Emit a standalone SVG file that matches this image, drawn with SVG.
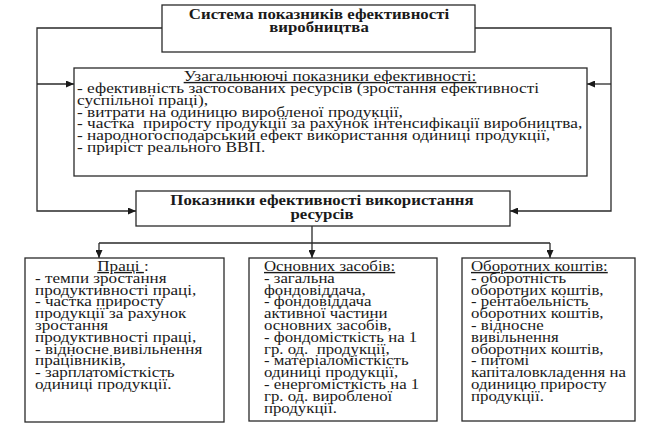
<svg xmlns="http://www.w3.org/2000/svg" width="648" height="424" viewBox="0 0 648 424">
<defs>
<style>
.box{fill:#fff;stroke:#2a2a2a;stroke-width:1.3}
.ln{fill:none;stroke:#2a2a2a;stroke-width:1.3}
text{font-family:"Liberation Serif","Times New Roman",serif;fill:#1a1a1a;font-size:14px;white-space:pre}
.b{font-weight:bold}
.u{text-decoration:underline}
</style>
<marker id="ah" markerUnits="userSpaceOnUse" markerWidth="8" markerHeight="7" refX="8" refY="3.5" orient="auto">
<path d="M0,0 L8,3.5 L0,7 z" fill="#1a1a1a"/>
</marker>
</defs>
<rect width="648" height="424" fill="#fff"/>
<g id="connectors">
<path class="ln" d="M162,28 H37 V211 H136" marker-end="url(#ah)"/>
<path class="ln" d="M37,84 H74" marker-end="url(#ah)"/>
<path class="ln" d="M475,28 H611 V211 H510" marker-end="url(#ah)"/>
<path class="ln" d="M611,84 H587" marker-end="url(#ah)"/>
<path class="ln" d="M312,226 V243 M99,243 H550"/>
<path class="ln" d="M99,243 V258" marker-end="url(#ah)"/>
<path class="ln" d="M312,243 V258" marker-end="url(#ah)"/>
<path class="ln" d="M550,243 V258" marker-end="url(#ah)"/>
</g>
<g id="system">
<rect class="box" x="162" y="5" width="313" height="47"/>
<g transform="translate(319 0) scale(1.2 1) translate(-319 0)">
<text class="b" x="319" y="19" text-anchor="middle">Система показників ефективності</text>
<text class="b" x="319" y="32" text-anchor="middle">виробництва</text>
</g>
</g>
<g id="general">
<rect class="box" x="74" y="68" width="513" height="108"/>
<g transform="translate(77 0) scale(1.235 1) translate(-77 0)">
<text class="u" x="281.9" y="81" text-anchor="middle">Узагальнюючі показники ефективності:</text>
<text x="77" y="93">- ефективність застосованих ресурсів (зростання ефективності</text>
<text x="77" y="104.8">суспільної праці),</text>
<text x="77" y="116.6">- витрати на одиницю виробленої продукції,</text>
<text x="77" y="128.4">- частка  приросту продукції за рахунок інтенсифікації виробництва,</text>
<text x="77" y="140.2">- народногосподарський ефект використання одиниці продукції,</text>
<text x="77" y="152">- приріст реального ВВП.</text>
</g>
</g>
<g id="resources">
<rect class="box" x="136" y="191" width="374" height="35"/>
<g transform="translate(322 0) scale(1.2 1) translate(-322 0)">
<text class="b" x="322" y="205" text-anchor="middle">Показники ефективності використання</text>
<text class="b" x="322" y="219" text-anchor="middle">ресурсів</text>
</g>
</g>
<g id="labour">
<rect class="box" x="25" y="258" width="199" height="164"/>
<g transform="translate(35 0) scale(1.22 1) translate(-35 0)">
<text x="107.1" y="271" text-anchor="middle"><tspan class="u">Праці </tspan>:</text>
<text x="35" y="282.8">- темпи зростання</text>
<text x="35" y="294.6">продуктивності праці,</text>
<text x="35" y="306.4">- частка приросту</text>
<text x="35" y="318.2">продукції за рахунок</text>
<text x="35" y="330">зростання</text>
<text x="35" y="341.8">продуктивності праці,</text>
<text x="35" y="353.6">- відносне вивільнення</text>
<text x="35" y="365.4">працівників,</text>
<text x="35" y="377.2">- зарплатомісткість</text>
<text x="35" y="389">одиниці продукції.</text>
</g>
</g>
<g id="fixed-assets">
<rect class="box" x="249" y="258" width="188" height="163"/>
<g transform="translate(264 0) scale(1.2 1) translate(-264 0)">
<text class="u" x="264" y="271">Основних засобів:</text>
<text x="264" y="282.8">- загальна</text>
<text x="264" y="294.6">фондовіддача,</text>
<text x="264" y="306.4">- фондовіддача</text>
<text x="264" y="318.2">активної частини</text>
<text x="264" y="330">основних засобів,</text>
<text x="264" y="341.8">- фондомісткість на 1</text>
<text x="264" y="353.6">гр. од.  продукції,</text>
<text x="264" y="365.4">- матеріаломісткість</text>
<text x="264" y="377.2">одиниці продукції,</text>
<text x="264" y="389">- енергомісткість на 1</text>
<text x="264" y="400.8">гр. од. виробленої</text>
<text x="264" y="412.6">продукції.</text>
</g>
</g>
<g id="working-capital">
<rect class="box" x="462" y="258" width="173" height="163"/>
<g transform="translate(471 0) scale(1.2 1) translate(-471 0)">
<text class="u" x="471" y="271">Оборотних коштів:</text>
<text x="471" y="282.8">- оборотність</text>
<text x="471" y="294.6">оборотних коштів,</text>
<text x="471" y="306.4">- рентабельність</text>
<text x="471" y="318.2">оборотних коштів,</text>
<text x="471" y="330">- відносне</text>
<text x="471" y="341.8">вивільнення</text>
<text x="471" y="353.6">оборотних коштів,</text>
<text x="471" y="365.4">- питомі</text>
<text x="471" y="377.2">капіталовкладення на</text>
<text x="471" y="389">одиницю приросту</text>
<text x="471" y="400.8">продукції.</text>
</g>
</g>
</svg>
